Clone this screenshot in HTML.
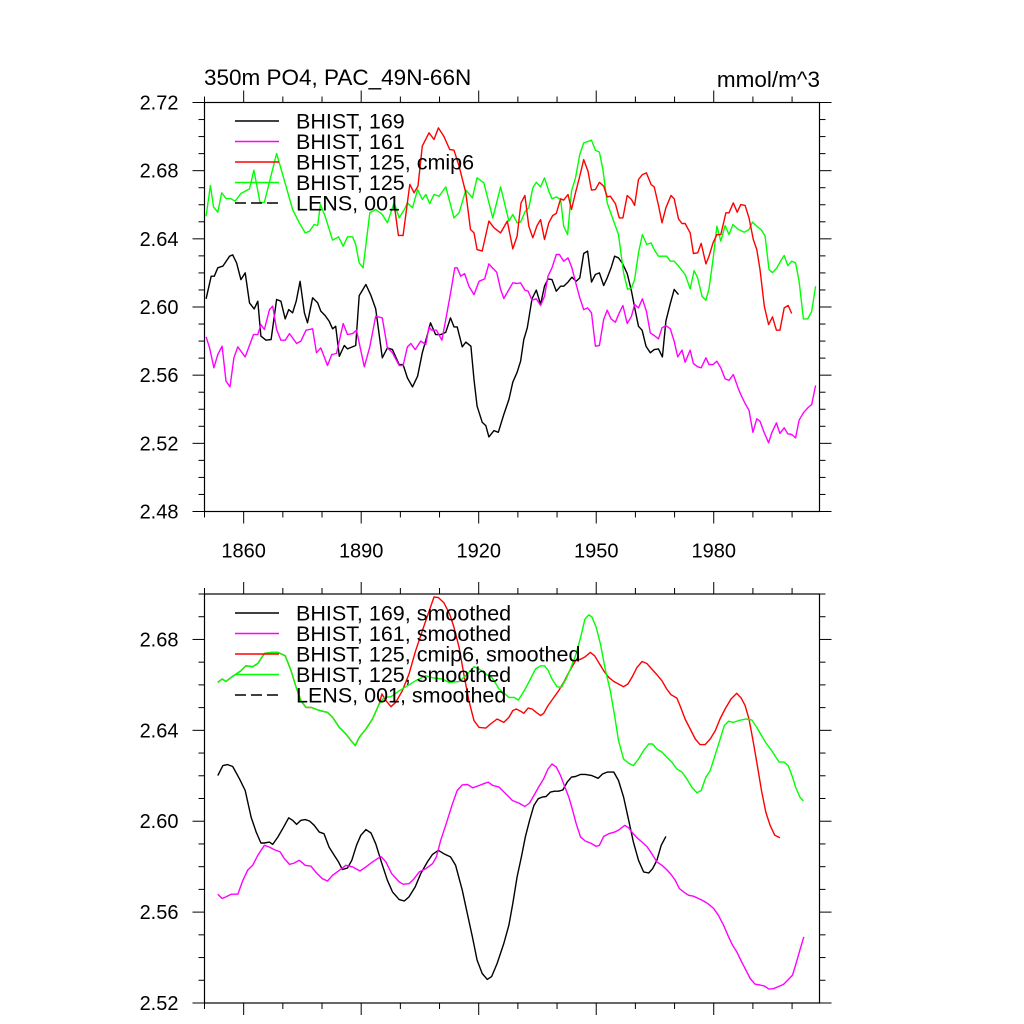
<!DOCTYPE html>
<html><head><meta charset="utf-8">
<style>
body{margin:0;background:#fff;}
svg{display:block;font-family:"Liberation Sans",sans-serif;}
</style></head>
<body>
<svg id="chart" width="1024" height="1024" viewBox="0 0 1024 1024">
<text x="204" y="85" font-size="22.5">350m PO4, PAC_49N-66N</text>
<text x="820" y="87" font-size="22.5" text-anchor="end">mmol/m^3</text>
<g id="top"></g>
<g id="bot"></g>
</svg>
<script>
// ---- data ----
const xTickYears = [1860, 1890, 1920, 1950, 1980];
const xTickLabels = ["1860", "1890", "1920", "1950", "1980"];
const topYTicks = [2.48, 2.52, 2.56, 2.60, 2.64, 2.68, 2.72];
const topYLabels = ["2.48", "2.52", "2.56", "2.60", "2.64", "2.68", "2.72"];
const botYTicks = [2.52, 2.56, 2.60, 2.64, 2.68];
const botYLabels = ["2.52", "2.56", "2.60", "2.64", "2.68"];

const top169Years = [1850.4,1851.7,1852.5,1853.4,1854.7,1856.4,1857.2,1858.2,1859.3,1860.4,1861.5,1862.7,1863.6,1864.4,1865.7,1867,1868.4,1869.5,1870.6,1871.5,1872.5,1873.4,1874.4,1875.5,1876.3,1877.6,1878.9,1879.7,1880.8,1881.8,1882.7,1883.5,1884.4,1885.7,1886.5,1888.6,1889.5,1891.2,1892.5,1893.7,1895.4,1896.7,1898,1899.7,1900.7,1901.8,1903.1,1904.4,1905.6,1906.9,1907.7,1909,1910.3,1911.6,1912.8,1913.7,1914.5,1915.8,1916.7,1918,1918.8,1919.6,1920.9,1921.8,1922.6,1923.9,1925,1926.4,1927.7,1928.7,1929.8,1930.7,1931.5,1932.4,1933.6,1934.7,1935.8,1936.8,1937.7,1938.7,1939.8,1940.9,1941.7,1942.8,1943.8,1944.9,1945.8,1946.8,1947.8,1948.8,1949.8,1950.8,1951.9,1952.8,1953.8,1954.7,1955.7,1956.7,1957.9,1959,1960,1960.8,1961.7,1962.7,1963.8,1964.8,1965.9,1966.9,1967.8,1968.9,1969.9,1971];
const top169Vals = [2.6048,2.6181,2.6181,2.623,2.624,2.6298,2.6306,2.6259,2.6161,2.62,2.6024,2.5989,2.6034,2.5829,2.5805,2.5809,2.6044,2.6034,2.593,2.5985,2.5966,2.6034,2.6151,2.5966,2.5907,2.6054,2.6024,2.5976,2.595,2.5917,2.5872,2.5887,2.5711,2.5774,2.5754,2.5774,2.6067,2.6132,2.6067,2.5989,2.5702,2.576,2.575,2.5662,2.5662,2.5584,2.5531,2.5594,2.5731,2.5838,2.5907,2.5838,2.5838,2.5852,2.5936,2.5883,2.5883,2.5766,2.5794,2.577,2.5574,2.5418,2.5324,2.5304,2.5238,2.5275,2.5265,2.5369,2.5457,2.5559,2.5617,2.5682,2.5809,2.5878,2.6048,2.6099,2.6015,2.6122,2.6165,2.6161,2.6093,2.6122,2.6122,2.6146,2.6175,2.6151,2.6171,2.6314,2.6328,2.6146,2.6191,2.62,2.6126,2.6171,2.623,2.6298,2.6288,2.6255,2.6196,2.6093,2.5975,2.5887,2.5864,2.577,2.5731,2.575,2.5754,2.5707,2.5917,2.602,2.6103,2.6073,2.604];

const top161Years = [1850.4,1851.3,1852.4,1853.4,1854.5,1855.5,1856.5,1857.5,1858.5,1860.4,1862.5,1863.6,1864.4,1865.3,1866.6,1867.4,1868.4,1869.5,1870.6,1871.7,1873.5,1874.6,1875.9,1877.6,1878.6,1879.7,1881.4,1882.5,1883.7,1885.4,1886.5,1887.8,1888.8,1890.8,1892.2,1893.7,1895.4,1896.7,1898,1899.7,1900.7,1901.8,1902.7,1903.8,1905.2,1906.5,1907.3,1908,1909.2,1910.6,1911.6,1912.8,1913.9,1914.5,1915.4,1916.4,1917.5,1918.8,1920.1,1921.5,1922.6,1923.5,1924.6,1925.6,1926.4,1928.7,1929.8,1930.7,1931.8,1932.6,1933.6,1934.7,1935.8,1936.8,1937.7,1938.7,1939.8,1940.6,1941.7,1942.8,1943.8,1944.9,1945.8,1946.8,1947.8,1948.8,1949.8,1950.8,1951.9,1952.8,1953.8,1954.9,1955.9,1956.8,1957.9,1959,1959.8,1960.8,1961.8,1962.8,1963.8,1964.8,1965.9,1966.8,1967.8,1968.9,1969.9,1970.8,1971.9,1972.7,1974,1974.8,1975.9,1976.8,1978,1978.8,1979.8,1980.8,1981.8,1982.9,1983.9,1985,1986.3,1986.9,1988,1989,1990,1991,1991.8,1992.9,1994,1994.8,1996,1996.9,1998,1998.9,1999.9,2000.9,2001.8,2002.9,2004,2005,2006];
const top161Vals = [2.5825,2.576,2.5643,2.5721,2.577,2.5565,2.5531,2.5702,2.5766,2.5707,2.5838,2.5838,2.5897,2.5868,2.5985,2.6005,2.5868,2.5805,2.5805,2.5844,2.5786,2.58,2.5864,2.5872,2.5731,2.576,2.5657,2.5721,2.5727,2.5903,2.5838,2.5844,2.5864,2.5649,2.5766,2.5946,2.5936,2.576,2.5731,2.5657,2.5657,2.5766,2.5786,2.575,2.58,2.578,2.5883,2.5864,2.5864,2.5805,2.5927,2.6079,2.623,2.623,2.6181,2.6196,2.6122,2.6073,2.6151,2.6165,2.6253,2.623,2.6204,2.6103,2.605,2.6142,2.6138,2.6142,2.6099,2.6093,2.604,2.6048,2.6009,2.6063,2.6181,2.623,2.6308,2.6308,2.6269,2.6288,2.623,2.6132,2.6054,2.5985,2.5995,2.5966,2.577,2.5774,2.5927,2.5981,2.593,2.5911,2.5966,2.6009,2.5903,2.5946,2.6015,2.5995,2.6048,2.5975,2.5848,2.5833,2.5813,2.5878,2.5891,2.5872,2.5799,2.5707,2.5747,2.5676,2.5747,2.5668,2.5649,2.5643,2.5702,2.5662,2.5662,2.5682,2.5643,2.5578,2.557,2.5604,2.552,2.5486,2.5434,2.5394,2.5265,2.5344,2.533,2.5261,2.5203,2.5261,2.532,2.5258,2.5291,2.5256,2.5252,2.5232,2.5336,2.5379,2.5408,2.5428,2.554,2.5682,2.5707];

const topCmip6Years = [1898.4,1899.5,1900.7,1902.4,1903.5,1904.5,1905.6,1907.3,1908.6,1909.7,1911.1,1912.6,1913.7,1915,1916.7,1917.9,1918.8,1919.6,1920.9,1922.6,1923.9,1925.6,1927.3,1928.7,1929.8,1930.8,1931.8,1932.8,1933.8,1934.9,1935.8,1936.8,1937.9,1938.9,1939.8,1940.9,1941.7,1942.8,1943.7,1944.7,1945.8,1946.8,1947.9,1948.8,1949.8,1950.8,1951.9,1952.8,1953.6,1954.9,1955.9,1956.8,1957.9,1959,1959.8,1960.8,1961.8,1962.8,1964,1964.8,1965.9,1966.8,1967.8,1969.1,1969.9,1971,1971.9,1972.7,1974,1974.8,1975.9,1976.8,1978,1978.8,1979.8,1980.8,1981.8,1983.1,1983.9,1985,1986,1986.9,1988,1989,1990.1,1991,1991.8,1992.9,1994,1995,1996,1996.9,1998,1999,1999.9];
const topCmip6Vals = [2.6607,2.642,2.642,2.672,2.667,2.671,2.6944,2.7022,2.6983,2.7051,2.7002,2.6924,2.692,2.6826,2.667,2.6455,2.6435,2.6337,2.6328,2.6504,2.6465,2.6435,2.6504,2.6341,2.6416,2.6611,2.6654,2.6474,2.6406,2.6478,2.6513,2.6396,2.6494,2.6537,2.6549,2.6635,2.6627,2.666,2.6572,2.667,2.6768,2.6865,2.6797,2.6686,2.6689,2.6732,2.6709,2.6646,2.665,2.6607,2.6523,2.6523,2.6654,2.6631,2.6596,2.6748,2.6777,2.6787,2.6719,2.6705,2.6596,2.6494,2.6582,2.6654,2.6635,2.6517,2.649,2.649,2.6435,2.6314,2.6318,2.6373,2.6253,2.6298,2.6376,2.6425,2.6425,2.6553,2.6553,2.6611,2.6556,2.6601,2.6596,2.6523,2.6396,2.6337,2.622,2.6005,2.5897,2.5942,2.5864,2.5864,2.5995,2.6009,2.5962];

const top125Years = [1850.4,1851.5,1852.3,1853.4,1854.4,1855.5,1856.8,1857.8,1859.3,1861.5,1862.6,1864.2,1865.3,1868.4,1870.8,1872.5,1874.2,1875.7,1876.8,1878,1878.9,1879.6,1880.8,1882.7,1884.2,1885.4,1886.5,1887.8,1888.6,1889.5,1890.5,1892.2,1893.7,1895.4,1896.7,1898.4,1899.7,1901,1901.8,1903.1,1904.4,1905.6,1906.5,1907.5,1908.6,1909.9,1911.6,1913.7,1915,1916.7,1918.4,1919.6,1921.3,1923.6,1925.6,1927.7,1928.7,1929.8,1930.7,1931.9,1932.8,1933.8,1934.7,1935.8,1936.8,1937.9,1938.7,1939.8,1940.9,1941.7,1942.7,1943.7,1944.7,1945.8,1946.8,1948.8,1949.8,1950.8,1951.7,1952.8,1954,1955.7,1957,1958,1959,1959.8,1960.8,1961.8,1962.9,1964,1964.9,1965.9,1967.2,1968,1968.9,1969.9,1971,1972.7,1974,1975,1975.9,1977,1978,1978.8,1979.8,1980.8,1981.8,1982.9,1983.9,1984.9,1986.3,1987.8,1989,1989.9,1991,1992.2,1993.1,1994.1,1995,1996.1,1997.3,1998,1998.9,1999.9,2000.9,2001.8,2002.9,2004,2005,2006];
const top125Vals = [2.6533,2.6713,2.6588,2.6556,2.667,2.6637,2.6635,2.6621,2.6666,2.6693,2.6803,2.6611,2.6615,2.6901,2.6709,2.6572,2.6494,2.6435,2.6445,2.6484,2.6478,2.6601,2.6533,2.6392,2.6412,2.6357,2.6412,2.6412,2.6367,2.6259,2.623,2.6553,2.6572,2.6543,2.6494,2.6611,2.6523,2.6572,2.6611,2.6582,2.6689,2.6631,2.666,2.6607,2.666,2.665,2.6705,2.6523,2.6553,2.6686,2.6641,2.6758,2.6729,2.6523,2.6705,2.6504,2.6543,2.6494,2.6498,2.6562,2.6582,2.6699,2.6732,2.6705,2.6758,2.668,2.6635,2.6646,2.6631,2.6474,2.6425,2.668,2.6758,2.6895,2.6963,2.6979,2.692,2.6909,2.6807,2.6611,2.6533,2.6425,2.62,2.6103,2.6112,2.6161,2.6318,2.6425,2.6367,2.6376,2.6333,2.6298,2.6298,2.6298,2.6269,2.6269,2.624,2.6191,2.6107,2.6214,2.6171,2.6063,2.604,2.6107,2.6279,2.6474,2.6386,2.6478,2.6425,2.6484,2.6455,2.6439,2.6455,2.6498,2.6474,2.6451,2.6416,2.622,2.6201,2.6229,2.6279,2.6302,2.6243,2.6269,2.6259,2.6151,2.593,2.593,2.5975,2.6122];

const bot169Years = [1853.4,1854.7,1855.9,1857.2,1858.9,1860.4,1861.9,1863.2,1864.4,1865.3,1866.6,1867.4,1868.7,1870.1,1871.5,1872.5,1873.5,1874.6,1875.7,1876.8,1878,1879.3,1880.5,1881.8,1883.1,1884.2,1885.2,1886.5,1887.6,1888.8,1889.9,1891.2,1892.5,1893.7,1895.3,1896.7,1898,1899.7,1901,1902.2,1903.8,1905.2,1906.9,1908.2,1909.7,1911.1,1912.8,1914.1,1915.8,1917.1,1918.4,1919.6,1920.9,1922.2,1923.3,1924.7,1926.4,1927.7,1928.7,1929.8,1930.9,1931.9,1933,1934.1,1935.2,1936.2,1937.2,1938.3,1939.4,1940.4,1941.5,1942.6,1943.7,1944.7,1946,1947.2,1948.9,1950.5,1951.6,1952.8,1954.5,1955.7,1957,1958.3,1959.5,1960.8,1962.1,1963.4,1964.4,1965.5,1966.6,1967.8];
const bot169Vals = [2.6201,2.6245,2.6249,2.6241,2.6187,2.6135,2.6018,2.5952,2.5904,2.5904,2.5908,2.5898,2.593,2.5971,2.6015,2.6004,2.5986,2.6004,2.6007,2.6001,2.5982,2.5952,2.5945,2.5886,2.585,2.5821,2.5787,2.5794,2.5828,2.5894,2.5938,2.5963,2.5948,2.5901,2.5813,2.574,2.5689,2.5655,2.5649,2.5667,2.5711,2.5769,2.5821,2.5854,2.5872,2.5857,2.5843,2.5806,2.5696,2.5594,2.5491,2.5389,2.533,2.5304,2.5316,2.5374,2.5462,2.5543,2.5638,2.5755,2.5843,2.593,2.6004,2.6069,2.6099,2.6106,2.6109,2.6128,2.6132,2.6132,2.6138,2.6172,2.6194,2.6197,2.6206,2.6206,2.6201,2.6189,2.6208,2.6216,2.6216,2.6179,2.6106,2.6004,2.5908,2.5828,2.5777,2.5772,2.5791,2.5828,2.5894,2.5933];

const bot161Years = [1853.4,1854.5,1855.5,1856.8,1858.5,1859.8,1861,1862.3,1863.6,1865.3,1866.6,1867.8,1869.3,1870.4,1871.7,1872.9,1874.2,1875.7,1877.2,1878.6,1880.1,1881.4,1882.7,1884.4,1886.1,1887.8,1889.7,1891.2,1892.9,1895,1896.3,1897.8,1899.7,1900.7,1902.2,1903.5,1904.8,1906.5,1908.2,1909.2,1910.3,1911.7,1913.3,1914.5,1915.8,1917.1,1918.5,1920.1,1921.3,1922.4,1923.6,1925.2,1926.9,1928.6,1930.2,1931.8,1933,1934.1,1935.3,1936.6,1937.7,1938.7,1939.8,1940.9,1942,1943,1944,1944.9,1946,1947.2,1948.5,1950,1950.8,1951.9,1953.2,1954.7,1955.9,1957.3,1958.3,1959.3,1960.4,1961.7,1962.9,1964.2,1965.5,1966.8,1968,1969.1,1970.2,1971.2,1972.3,1973.6,1974.8,1976.1,1977.4,1978.7,1980,1981.2,1982.5,1983.8,1984.8,1985.9,1987.1,1988.2,1989.3,1990.5,1991.8,1992.9,1994.1,1995.2,1996.5,1997.8,1998.9,2000.1,2000.9,2002,2003];
const bot161Vals = [2.5679,2.566,2.5667,2.5679,2.5679,2.574,2.5784,2.5806,2.585,2.5894,2.5886,2.5875,2.5865,2.5835,2.581,2.5816,2.5828,2.5806,2.5802,2.5772,2.5747,2.5737,2.5762,2.5784,2.5806,2.5799,2.5781,2.5799,2.5821,2.5845,2.5821,2.5769,2.5733,2.5723,2.5725,2.5747,2.5777,2.5791,2.5813,2.5843,2.5916,2.5989,2.6077,2.6135,2.616,2.6162,2.6147,2.6157,2.6165,2.6172,2.6157,2.615,2.6121,2.6091,2.608,2.6065,2.608,2.6113,2.615,2.6187,2.623,2.6252,2.6238,2.6201,2.615,2.6106,2.6047,2.5989,2.593,2.5913,2.5904,2.5889,2.5894,2.5933,2.5945,2.5952,2.5963,2.5982,2.5971,2.5948,2.5927,2.5908,2.5889,2.5857,2.5821,2.5806,2.5787,2.5766,2.574,2.5704,2.5689,2.5674,2.567,2.566,2.5649,2.5635,2.5616,2.5586,2.5543,2.5491,2.5455,2.5425,2.5382,2.5345,2.5308,2.5283,2.5279,2.5275,2.5261,2.5263,2.5272,2.5282,2.5301,2.5323,2.5367,2.5433,2.5491];

const botCmip6Years = [1853.4,1854.5,1855.5,1856.8,1858.1,1859.3,1860.6,1862.3,1863.6,1865.3,1867,1868.7,1870.6,1872.1,1873.4,1874.6,1875.9,1877.2,1878.9,1880.1,1881.4,1882.7,1884.4,1886.1,1887.4,1888.5,1889.5,1891.2,1892.9,1894.6,1895.3,1896.3,1897.6,1898.8,1900.5,1902.2,1903.9,1905.6,1907.2,1908.6,1909.7,1911.1,1912.6,1913.7,1915,1916.2,1917.5,1918.8,1920.1,1921.8,1923,1924.7,1926.4,1927.7,1928.7,1929.6,1930.7,1931.5,1932.6,1933.6,1934.7,1935.8,1936.6,1937.7,1939.2,1940.4,1941.7,1943,1944.7,1946,1947.2,1948.5,1949.6,1950.6,1951.9,1953.2,1954.5,1955.7,1957,1958.1,1959.1,1960.4,1961.7,1962.9,1964.2,1965.5,1966.8,1968,1969.1,1970.6,1971.4,1972.7,1974,1975.3,1976.5,1977.8,1979.1,1980.4,1981.6,1982.9,1984.4,1985.9,1987,1988,1989,1990.1,1991.2,1992.2,1993.3,1994.4,1995.6,1996.9];
const botCmip6Vals = [2.6611,2.6626,2.6615,2.6633,2.6648,2.6662,2.6684,2.668,2.6694,2.6738,2.6743,2.6743,2.6728,2.6662,2.6589,2.653,2.6501,2.6501,2.649,2.6484,2.6479,2.6457,2.6413,2.6384,2.6355,2.6333,2.6369,2.6406,2.645,2.6516,2.656,2.6531,2.6504,2.6523,2.6574,2.6648,2.675,2.6838,2.6918,2.6987,2.6984,2.6962,2.6911,2.6853,2.6765,2.6648,2.653,2.6443,2.6413,2.641,2.6428,2.645,2.6435,2.6457,2.6487,2.6494,2.6484,2.6475,2.6498,2.6494,2.6479,2.6465,2.6475,2.6509,2.6545,2.6574,2.6611,2.6655,2.6706,2.6713,2.6724,2.6743,2.6728,2.6699,2.6662,2.6633,2.6615,2.6604,2.6592,2.6604,2.6633,2.6677,2.6703,2.6694,2.667,2.6645,2.6618,2.6582,2.6557,2.6542,2.6509,2.645,2.6406,2.6362,2.6337,2.6337,2.6362,2.6399,2.645,2.6494,2.6538,2.6563,2.6542,2.6509,2.645,2.6348,2.6238,2.6135,2.604,2.5982,2.5938,2.5927];

const bot125Years = [1853.4,1854.5,1855.5,1856.8,1858.1,1859.3,1860.6,1862.3,1863.6,1865.3,1867,1868.7,1870.6,1872.1,1873.4,1874.6,1875.9,1877.2,1878.9,1880.1,1881.4,1882.7,1884.4,1886.1,1887.4,1888.5,1889.5,1891.2,1892.9,1894.6,1895.9,1897.6,1899.7,1901.8,1903.9,1906.5,1908.6,1910.7,1912.4,1915,1916.7,1918.8,1920.1,1921.8,1923.5,1925.2,1927.7,1929,1930.1,1931.1,1932.1,1933.2,1934.5,1935.8,1936.8,1937.7,1938.7,1940,1941.1,1942.3,1943.4,1944.7,1946,1947.1,1948.1,1948.9,1950,1951.1,1952.3,1953.6,1954.7,1955.7,1957,1958.3,1959.5,1960.8,1962.1,1963.4,1964.4,1965.5,1966.8,1968,1969.3,1970.6,1971.9,1973.1,1974.4,1975.7,1976.8,1978,1979.1,1980.2,1981.4,1982.7,1983.8,1985,1986.3,1988.2,1989.7,1991,1992.2,1993.5,1994.8,1995.6,1996.7,1998,1999,2000.1,2000.9,2002,2002.9];
const bot125Vals = [2.6611,2.6626,2.6615,2.6633,2.6648,2.6662,2.6684,2.668,2.6694,2.6738,2.6743,2.6743,2.6728,2.6662,2.6589,2.653,2.6501,2.6501,2.649,2.6484,2.6479,2.6457,2.6413,2.6384,2.6355,2.6333,2.6369,2.6406,2.645,2.6516,2.6545,2.6548,2.6574,2.6596,2.6618,2.664,2.663,2.6626,2.6611,2.6615,2.664,2.668,2.667,2.6648,2.663,2.6582,2.6545,2.6545,2.6533,2.656,2.6589,2.6626,2.667,2.6684,2.6684,2.6665,2.6626,2.6592,2.6589,2.6626,2.667,2.6728,2.6809,2.6889,2.6908,2.6899,2.6853,2.6779,2.667,2.6574,2.6465,2.6355,2.6274,2.6255,2.6245,2.6274,2.6311,2.634,2.634,2.6318,2.6304,2.6282,2.626,2.623,2.6216,2.6187,2.615,2.6125,2.6135,2.6194,2.6223,2.6282,2.6348,2.6421,2.644,2.6435,2.6443,2.645,2.6446,2.6413,2.6377,2.634,2.6311,2.6289,2.626,2.626,2.6245,2.6194,2.615,2.6106,2.6089];

const topLegendLabels = ["BHIST, 169", "BHIST, 161", "BHIST, 125, cmip6", "BHIST, 125", "LENS, 001"];
const botLegendLabels = ["BHIST, 169, smoothed", "BHIST, 161, smoothed", "BHIST, 125, cmip6, smoothed", "BHIST, 125, smoothed", "LENS, 001, smoothed"];
const legendColors = ["#000000", "#ff00ff", "#ff0000", "#00ff00", "#000000"];

// ---- drawing ----
const NS = "http://www.w3.org/2000/svg";
const X0 = 1850, X1 = 2007;
function mk(tag, attrs, parent) {
  const e = document.createElementNS(NS, tag);
  for (const k in attrs) e.setAttribute(k, attrs[k]);
  parent.appendChild(e);
  return e;
}
function panel(g, box, yMin, yMax, yTicks, yLabels, showXLabels, series, legendLabels, legendY0) {
  const L = box.l, R = box.r, T = box.t, B = box.b;
  const xs = v => L + (v - X0) / (X1 - X0) * (R - L);
  const ys = v => B - (v - yMin) / (yMax - yMin) * (B - T);
  series.forEach((s, i) => {
    let d = "";
    s.years.forEach((yr, j) => { d += (j ? "L" : "M") + xs(yr).toFixed(1) + "," + ys(s.vals[j]).toFixed(1); });
    const p = mk("path", {d: d, fill: "none", stroke: s.color, "stroke-width": 1.4, "stroke-linejoin": "round"}, g);
    
    
  });
  const fr = mk("rect", {x: L, y: T, width: R - L, height: B - T, fill: "none", stroke: "#000", "stroke-width": 1.2}, g);
  
  
  for (let v = Math.round(yMin * 100); v <= Math.round(yMax * 100); v++) {
    const y = ys(v / 100);
    const major = yTicks.some(t => Math.round(t * 100) === v);
    const len = major ? 12 : 6;
    mk("line", {x1: L - len, x2: L, y1: y, y2: y, stroke: "#000", "stroke-width": 1}, g);
    mk("line", {x1: R, x2: R + len, y1: y, y2: y, stroke: "#000", "stroke-width": 1}, g);
  }
  yTicks.forEach((t, i) => {
    const tx = mk("text", {x: L - 26, y: ys(t) + 7, "font-size": 20, "text-anchor": "end"}, g);
    tx.textContent = yLabels[i];
    
    
  });
  for (let yr = 1850; yr <= X1; yr += 10) {
    const x = xs(yr);
    const major = xTickYears.indexOf(yr) >= 0;
    const len = major ? 12 : 6;
    mk("line", {x1: x, x2: x, y1: T - len, y2: T, stroke: "#000", "stroke-width": 1}, g);
    mk("line", {x1: x, x2: x, y1: B, y2: B + len, stroke: "#000", "stroke-width": 1}, g);
  }
  if (showXLabels) {
    xTickYears.forEach((yr, i) => {
      const tx = mk("text", {x: xs(yr), y: B + 46, "font-size": 20, "text-anchor": "middle"}, g);
      tx.textContent = xTickLabels[i];
      
      
    });
  }
  legendLabels.forEach((lab, i) => {
    const y = legendY0 + i * 20.5;
    const ln = mk("line", {x1: 235, x2: 279, y1: y, y2: y, stroke: legendColors[i], "stroke-width": 1.4}, g);
    if (i === 4) ln.setAttribute("stroke-dasharray", "11,5");
    
    
    const tx = mk("text", {x: 296, y: y + 7.5, "font-size": 21.5}, g);
    tx.textContent = lab;
    
    
  });
}
panel(document.getElementById("top"), {l: 204.5, r: 819.5, t: 102.5, b: 511.5}, 2.48, 2.72, topYTicks, topYLabels, true, [
  {years: top169Years, vals: top169Vals, color: "#000000", name: "bhist-169-line"},
  {years: top161Years, vals: top161Vals, color: "#ff00ff", name: "bhist-161-line"},
  {years: top125Years, vals: top125Vals, color: "#00ff00", name: "bhist-125-line"},
  {years: topCmip6Years, vals: topCmip6Vals, color: "#ff0000", name: "bhist-125-cmip6-line"}
], topLegendLabels, 121);
panel(document.getElementById("bot"), {l: 204.5, r: 819.5, t: 594, b: 1003}, 2.52, 2.70, botYTicks, botYLabels, false, [
  {years: bot169Years, vals: bot169Vals, color: "#000000", name: "bhist-169-smoothed-line"},
  {years: bot161Years, vals: bot161Vals, color: "#ff00ff", name: "bhist-161-smoothed-line"},
  {years: botCmip6Years, vals: botCmip6Vals, color: "#ff0000", name: "bhist-125-cmip6-smoothed-line"},
  {years: bot125Years, vals: bot125Vals, color: "#00ff00", name: "bhist-125-smoothed-line"}
], botLegendLabels, 613);
</script>
</body></html>
